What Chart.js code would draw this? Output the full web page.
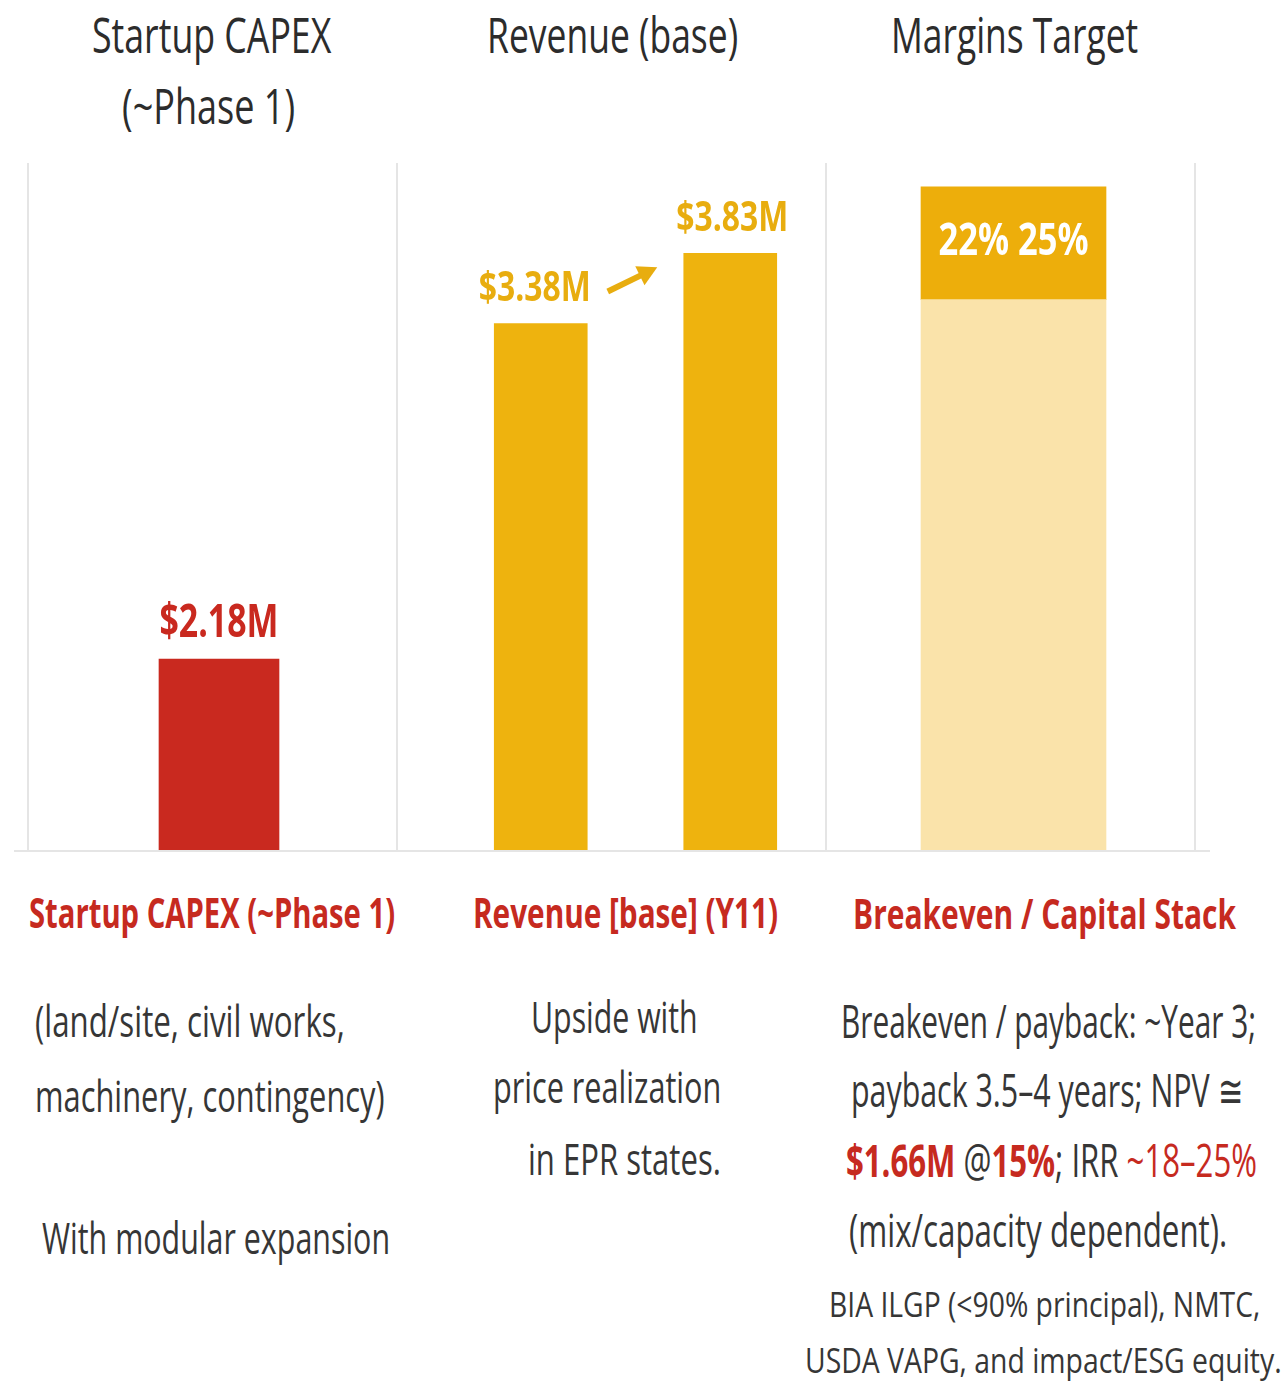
<!DOCTYPE html>
<html>
<head>
<meta charset="utf-8">
<script src="https://cdn.jsdelivr.net/npm/chart.js@4.4.0/dist/chart.umd.min.js"></script>
<style>
  html, body { margin: 0; padding: 0; background: #fff; }
  #page { position: relative; width: 1286px; height: 1389px; overflow: hidden;
    font-family: 'Open Sans', 'Noto Sans', sans-serif; color: #2e2e2e; }
  canvas { position: absolute; }
  .t { position: absolute; left: 0; top: 0; white-space: nowrap; line-height: 1; transform-origin: 0 0; }
  .title { font-size: 50px; color: #2c2c2c; }
  .head { font-size: 42px; font-weight: bold; color: #c62a1f; }
  .desc { font-size: 43px; color: #363636; }
  .big { font-size: 45px; }
  .small { font-size: 34px; }
  .red { color: #c62a1f; }
  .b { font-weight: bold; }
</style>
</head>
<body>
<div id="page">
  <canvas id="capex" width="382" height="712" style="left:14px;top:150px"></canvas>
  <canvas id="revenue" width="429" height="712" style="left:396px;top:150px"></canvas>
  <canvas id="margins" width="390" height="712" style="left:825px;top:150px"></canvas>

  <div class="t title" data-x="92" data-w="239" data-b="53">Startup CAPEX</div>
  <div class="t title" data-x="122" data-w="173" data-b="124">(~Phase 1)</div>
  <div class="t title" data-x="487" data-w="251" data-b="53">Revenue (base)</div>
  <div class="t title" data-x="891" data-w="247" data-b="53">Margins Target</div>

  <div class="t head" data-x="29" data-w="366" data-b="928">Startup CAPEX (~Phase 1)</div>
  <div class="t head" data-x="473" data-w="305" data-b="928">Revenue [base] (Y11)</div>
  <div class="t head" data-x="853" data-w="383" data-b="929">Breakeven / Capital Stack</div>

  <div class="t desc" data-x="35" data-w="310" data-b="1037">(land/site, civil works,</div>
  <div class="t desc" data-x="35" data-w="350" data-b="1112">machinery, contingency)</div>
  <div class="t desc" data-x="42" data-w="348" data-b="1254">With modular expansion</div>

  <div class="t desc" data-x="531" data-w="167" data-b="1033">Upside with</div>
  <div class="t desc" data-x="493" data-w="228" data-b="1103">price realization</div>
  <div class="t desc" data-x="528" data-w="193" data-b="1175">in EPR states.</div>

  <div class="t desc big" data-x="841" data-w="415" data-b="1038">Breakeven / payback: ~Year 3;</div>
  <div class="t desc big" data-x="851" data-w="392" data-b="1107">payback 3.5–4 years; NPV ≅</div>
  <div class="t desc big" data-x="846" data-w="411" data-b="1177"><span class="red b">$1.66M</span> @<span class="red b">15%</span>; IRR <span class="red">~18–25%</span></div>
  <div class="t desc big" data-x="849" data-w="378" data-b="1247">(mix/capacity dependent).</div>
  <div class="t desc small" data-x="829" data-w="431" data-b="1317">BIA ILGP (&lt;90% principal), NMTC,</div>
  <div class="t desc small" data-x="805" data-w="477" data-b="1373">USDA VAPG, and impact/ESG equity.</div>
</div>
<script>
// data
const capexLabels = ['Startup CAPEX (~Phase 1)'];
const capexValues = [2.18];
const capexText = ['$2.18M'];

const revenueLabels = ['Base', 'Upside'];
const revenueValues = [3.38, 3.83];
const revenueText = ['$3.38M', '$3.83M'];

const marginLabels = ['Margins Target'];
const marginBase = [83];
const marginBand = [17];
const marginBandText = ['22% 25%'];

const RED = '#c9291f';
const GOLD = '#eeb30e';
const GOLD_TXT = '#e8ad0f';
const LIGHT = '#fae3aa';
const BAND = '#edae0b';
const GRID = '#dcdcdc';
const FONT = "'Open Sans', 'Noto Sans', sans-serif";

// squeeze each text line to the width it has in the reference and sit it on its baseline
function placeText() {
    document.querySelectorAll('.t').forEach(el => {
        el.style.transform = 'none';
        let mark = el.querySelector('.bl');
        if (!mark) {
            mark = document.createElement('span');
            mark.className = 'bl';
            mark.style.cssText = 'display:inline-block;width:0;height:0;';
            el.appendChild(mark);
        }
        const base = mark.offsetTop;
        const k = parseFloat(el.dataset.w) / el.offsetWidth;
        el.style.left = el.dataset.x + 'px';
        el.style.top = (parseFloat(el.dataset.b) - base) + 'px';
        el.style.transform = 'scaleX(' + k + ')';
    });
}
placeText();
if (document.fonts) document.fonts.ready.then(placeText);

// panel frame: vertical separators + baseline
const framePlugin = {
    id: 'frame',
    beforeDatasetsDraw(chart, args, opts) {
        const ctx = chart.ctx;
        const a = chart.chartArea;
        ctx.save();
        ctx.strokeStyle = GRID;
        ctx.lineWidth = 1.5;
        (opts.verticals || []).forEach(x => {
            ctx.beginPath();
            ctx.moveTo(x, a.top);
            ctx.lineTo(x, a.bottom);
            ctx.stroke();
        });
        ctx.beginPath();
        ctx.moveTo(0, a.bottom + 1);
        ctx.lineTo(opts.baseEnd || chart.width, a.bottom + 1);
        ctx.stroke();
        ctx.restore();
    }
};

// bold value labels, squeezed to a target width
function squeezedText(ctx, text, x, y, width) {
    const w = ctx.measureText(text).width;
    ctx.save();
    ctx.translate(x, y);
    ctx.scale(width / w, 1);
    ctx.fillText(text, 0, 0);
    ctx.restore();
}

const valuePlugin = {
    id: 'values',
    afterDatasetsDraw(chart, args, opts) {
        if (!opts.text) return;
        const ctx = chart.ctx;
        const meta = chart.getDatasetMeta(opts.dataset || 0);
        ctx.save();
        ctx.font = 'bold ' + opts.size + 'px ' + FONT;
        ctx.fillStyle = opts.color;
        ctx.textAlign = 'center';
        ctx.textBaseline = 'alphabetic';
        meta.data.forEach((bar, i) => {
            const dx = opts.shift ? opts.shift[i] : 0;
            const y = opts.inside ? (bar.y + bar.base) / 2 + 12 : bar.y - 22;
            squeezedText(ctx, opts.text[i], bar.x + dx, y, opts.widths[i]);
        });
        if (opts.arrow && meta.data.length > 1) {
            const b0 = meta.data[0], b1 = meta.data[1];
            const x0 = b0.x + 67, y0 = b0.y - 32;
            const x1 = b1.x - 73, y1 = b1.y + 14;
            const ang = Math.atan2(y1 - y0, x1 - x0);
            ctx.strokeStyle = opts.color;
            ctx.fillStyle = opts.color;
            ctx.lineWidth = 6;
            ctx.beginPath();
            ctx.moveTo(x0, y0);
            ctx.lineTo(x1 - 12 * Math.cos(ang), y1 - 12 * Math.sin(ang));
            ctx.stroke();
            ctx.beginPath();
            ctx.moveTo(x1, y1);
            ctx.lineTo(x1 - 22 * Math.cos(ang - 0.5), y1 - 22 * Math.sin(ang - 0.5));
            ctx.lineTo(x1 - 22 * Math.cos(ang + 0.5), y1 - 22 * Math.sin(ang + 0.5));
            ctx.closePath();
            ctx.fill();
        }
        ctx.restore();
    }
};

function baseOptions(yMax, padding, stacked) {
    return {
        responsive: false,
        animation: false,
        layout: { padding: padding },
        plugins: { legend: { display: false }, tooltip: { enabled: false } },
        scales: {
            x: { display: false, stacked: stacked },
            y: { display: false, min: 0, max: yMax, stacked: stacked }
        }
    };
}

const capexOpts = baseOptions(7.84, { left: 28, right: 0, top: 13, bottom: 12 }, false);
capexOpts.plugins.frame = { verticals: [14] };
capexOpts.plugins.values = { text: capexText, color: RED, size: 46, widths: [119] };
new Chart(document.getElementById('capex'), {
    type: 'bar',
    data: {
        labels: capexLabels,
        datasets: [{ data: capexValues, backgroundColor: RED, barThickness: 120 }]
    },
    options: capexOpts,
    plugins: [framePlugin, valuePlugin]
});

const revOpts = baseOptions(4.41, { left: 50, right: 0, top: 13, bottom: 12 }, false);
revOpts.plugins.frame = { verticals: [1] };
revOpts.plugins.values = { text: revenueText, color: GOLD_TXT, size: 41, widths: [112, 112], shift: [-6, 2], arrow: true };
new Chart(document.getElementById('revenue'), {
    type: 'bar',
    data: {
        labels: revenueLabels,
        datasets: [{ data: revenueValues, backgroundColor: GOLD, barThickness: 93 }]
    },
    options: revOpts,
    plugins: [framePlugin, valuePlugin]
});

const marOpts = baseOptions(103.6, { left: 0, right: 13, top: 13, bottom: 12 }, true);
marOpts.plugins.frame = { verticals: [1, 370], baseEnd: 385 };
marOpts.plugins.values = { text: marginBandText, color: '#ffffff', size: 44, widths: [150], inside: true, dataset: 1 };
new Chart(document.getElementById('margins'), {
    type: 'bar',
    data: {
        labels: marginLabels,
        datasets: [
            { data: marginBase, backgroundColor: LIGHT, barThickness: 185 },
            { data: marginBand, backgroundColor: BAND, barThickness: 185 }
        ]
    },
    options: marOpts,
    plugins: [framePlugin, valuePlugin]
});
</script>
</body>
</html>
